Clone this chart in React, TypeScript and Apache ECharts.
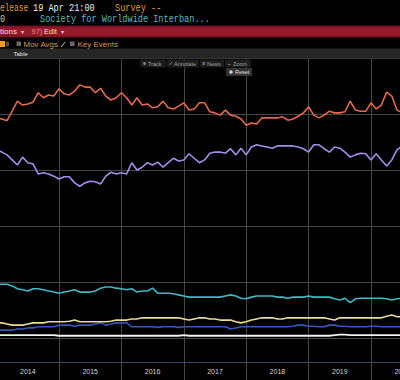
import React, { useEffect, useRef } from "react";
import * as echarts from "echarts";

// ---- categories (monthly, Jan 2014 .. Jul 2020) ----
const years = ["2014", "2015", "2016", "2017", "2018", "2019", "2020"];
const monthCodes = ["01", "02", "03", "04", "05", "06", "07", "08", "09", "10", "11", "12"];
const allMonths: string[] = [];
years.forEach((y) => monthCodes.forEach((m) => allMonths.push(`${y}-${m}`)));
const months = allMonths.slice(0, 79);

// ---- series values (share, %) ----
const seriesOrange = [
  39.3, 39.1, 38.8, 40.5, 42.3, 41.6, 41.8, 42.1, 43.8, 42.9,
  43.4, 43.2, 44.5, 43.6, 43.4, 44.1, 45.2, 44.8, 44.8, 43.8,
  44.6, 43.2, 42.5, 42.9, 43.8, 42.9, 41.6, 42.9, 41.6, 41.8,
  41.1, 41.3, 42.3, 41.1, 40.9, 41.4, 42.0, 40.7, 40.9, 42.0,
  42.0, 40.4, 40.2, 39.8, 40.7, 39.8, 39.6, 39.1, 38.0, 38.4,
  38.2, 39.3, 39.3, 39.3, 39.3, 39.5, 38.9, 39.1, 39.6, 40.2,
  41.3, 39.8, 39.3, 39.8, 40.5, 40.2, 40.2, 40.4, 42.3, 40.7,
  40.5, 40.5, 42.0, 40.9, 41.6, 43.9, 43.2, 40.7, 40.2,
];
const seriesPurple = [
  33.6, 33.2, 32.7, 31.8, 30.9, 32.3, 31.3, 31.1, 29.3, 29.5,
  29.3, 28.9, 28.4, 28.8, 28.8, 27.7, 27.1, 27.7, 28.0, 27.9,
  27.5, 28.9, 29.6, 29.3, 29.5, 29.3, 31.3, 30.0, 30.5, 31.3,
  30.9, 31.4, 30.5, 31.3, 32.1, 31.6, 31.8, 32.9, 32.1, 31.3,
  31.8, 33.0, 33.2, 33.2, 33.0, 33.8, 32.7, 33.9, 32.7, 34.1,
  34.5, 34.3, 34.1, 33.9, 34.3, 34.3, 34.3, 34.3, 34.1, 33.8,
  33.2, 34.5, 34.5, 33.8, 33.2, 34.1, 33.9, 33.2, 32.3, 32.7,
  33.0, 32.9, 31.8, 32.9, 31.8, 30.7, 31.8, 33.6, 34.3,
];
const seriesCyan = [
  9.6, 9.6, 9.6, 9.3, 8.8, 8.6, 8.4, 8.8, 8.8, 8.6,
  8.4, 8.2, 8.0, 8.2, 8.4, 8.6, 8.2, 8.2, 8.2, 8.4,
  8.9, 9.1, 9.1, 8.9, 8.8, 8.6, 8.8, 8.2, 8.4, 8.4,
  8.9, 8.0, 8.0, 8.0, 7.9, 7.7, 7.5, 7.3, 7.3, 7.3,
  7.3, 7.3, 7.3, 7.3, 7.5, 7.7, 7.5, 7.1, 7.0, 7.3,
  7.5, 7.5, 7.5, 7.5, 7.3, 7.3, 7.1, 7.3, 7.3, 7.3,
  7.5, 7.3, 7.3, 7.3, 7.3, 7.0, 6.8, 7.1, 6.3, 7.0,
  7.1, 7.1, 7.1, 7.1, 7.1, 7.0, 6.8, 7.0, 7.1,
];
const seriesYellow = [
  2.7, 2.7, 2.5, 2.3, 2.3, 2.3, 2.5, 2.7, 2.7, 2.7,
  2.9, 2.9, 2.9, 2.9, 3.0, 3.2, 2.9, 2.9, 2.9, 2.9,
  2.9, 2.9, 3.0, 3.2, 3.2, 3.2, 3.4, 3.4, 3.6, 3.6,
  3.6, 3.6, 3.6, 3.6, 3.6, 3.6, 3.4, 3.2, 3.4, 3.6,
  3.6, 3.4, 3.4, 3.2, 3.2, 3.2, 2.9, 2.7, 2.9, 3.2,
  3.4, 3.6, 3.6, 3.6, 3.4, 3.4, 3.6, 3.6, 3.6, 3.6,
  3.6, 3.6, 3.6, 3.6, 3.4, 3.2, 3.6, 3.6, 3.6, 3.6,
  3.6, 3.6, 3.6, 3.6, 3.6, 3.9, 4.1, 3.8, 3.8,
];
const seriesBlue = [
  1.4, 1.4, 1.4, 1.4, 1.6, 1.6, 1.8, 1.8, 2.0, 2.0,
  2.0, 2.0, 2.3, 2.3, 2.3, 2.1, 2.3, 2.3, 2.3, 2.5,
  2.7, 2.3, 2.5, 2.7, 2.7, 2.7, 2.0, 2.0, 2.0, 2.0,
  2.0, 1.9, 2.0, 2.0, 2.0, 1.9, 2.0, 2.0, 2.0, 2.0,
  2.0, 2.0, 2.0, 2.0, 2.0, 1.6, 1.8, 2.0, 2.0, 2.0,
  2.0, 2.0, 2.0, 2.0, 2.0, 2.0, 2.0, 2.1, 2.3, 2.3,
  2.1, 2.1, 2.0, 2.0, 2.3, 2.3, 2.1, 2.1, 2.0, 2.0,
  2.0, 2.0, 2.1, 2.1, 2.0, 2.0, 2.0, 2.0, 2.0,
];
const seriesWhite = [
  0.5, 0.5, 0.5, 0.5, 0.5, 0.5, 0.5, 0.5, 0.5, 0.5,
  0.5, 0.5, 0.4, 0.4, 0.4, 0.4, 0.4, 0.4, 0.4, 0.4,
  0.4, 0.4, 0.4, 0.4, 0.4, 0.4, 0.4, 0.4, 0.4, 0.4,
  0.4, 0.4, 0.4, 0.4, 0.4, 0.4, 0.5, 0.4, 0.4, 0.4,
  0.4, 0.4, 0.4, 0.4, 0.4, 0.4, 0.4, 0.4, 0.4, 0.4,
  0.4, 0.4, 0.4, 0.4, 0.4, 0.4, 0.4, 0.4, 0.4, 0.4,
  0.4, 0.4, 0.4, 0.4, 0.4, 0.5, 0.6, 0.6, 0.5, 0.5,
  0.5, 0.5, 0.5, 0.5, 0.5, 0.5, 0.5, 0.5, 0.5,
];

const MONO = "Liberation Mono";
const SANS = "Liberation Sans";
const SHIFT = 4; // chart div starts 4px left of the page edge

function monoText(text: string, x: number, y: number, fill: string, sx = 0.78) {
  return {
    type: "text",
    x,
    y,
    scaleX: sx,
    z: 100,
    style: { text, x: 0, y: 0, fill, font: `11px "${MONO}"`, verticalAlign: "middle" },
  };
}
function sansText(text: string, x: number, y: number, fill: string, size: number) {
  return {
    type: "text",
    x,
    y,
    z: 100,
    style: { text, x: 0, y: 0, fill, font: `${size}px "${SANS}"`, verticalAlign: "middle" },
  };
}

export default function App() {
  const ref = useRef<HTMLDivElement>(null);
  useEffect(() => {
    document.body.style.overflow = "hidden";
    const chart = echarts.init(ref.current!, null, { renderer: "svg" });
    const line = (name: string, data: number[], color: string, w = 1.6) => ({
      name,
      type: "line",
      data,
      symbol: "none",
      showSymbol: false,
      lineStyle: { color, width: w },
      itemStyle: { color },
    });
    const option: any = {
      animation: false,
      backgroundColor: "#000000",
      grid: { left: 0.6, right: 1.8, top: 58, bottom: 0, containLabel: false, outerBoundsMode: "none" },
      xAxis: {
        type: "category",
        data: months,
        boundaryGap: false,
        offset: -18,
        axisLine: { onZero: false, lineStyle: { color: "#3a4a60", width: 1 } },
        axisTick: { show: false },
        axisLabel: {
          interval: (i: number) => i % 12 === 6,
          formatter: (v: string) => v.slice(0, 4),
          color: "#d8d8d8",
          fontSize: 7,
          fontFamily: SANS,
          margin: 6,
        },
        splitLine: {
          show: true,
          interval: (i: number) => i % 12 === 0,
          lineStyle: { color: "#474747", width: 1 },
        },
      },
      yAxis: {
        type: "value",
        min: -7.5,
        max: 50,
        axisLine: { show: false },
        axisTick: { show: false },
        axisLabel: { show: false },
        splitLine: { show: true, lineStyle: { color: "#474747", width: 1 } },
      },
      series: [
        line("White", seriesWhite, "#f2f2f2", 1.8),
        line("Blue", seriesBlue, "#3656c0"),
        line("Yellow", seriesYellow, "#e8dc98"),
        line("Cyan", seriesCyan, "#3fb9c4"),
        line("Purple", seriesPurple, "#a68de8"),
        line("Orange", seriesOrange, "#e66a4a"),
      ],
      graphic: {
        elements: [
          {
            type: "group",
            x: SHIFT,
            y: 0,
            z: 100,
            children: [
              // header row 1
              monoText("elease", 0, 8.6, "#e69a3c", 0.71),
              monoText("19 Apr 21:00", 33, 8.6, "#ececec"),
              monoText("Survey --", 115, 8.6, "#e69a3c"),
              // header row 2
              monoText("0", 0, 19.6, "#e8c48a"),
              monoText("Society for Worldwide Interban...", 40, 19.6, "#5cb8c0"),
              // red toolbar
              {
                type: "rect",
                z: 99,
                shape: { x: 0, y: 25.5, width: 400, height: 12 },
                style: {
                  fill: new echarts.graphic.LinearGradient(0, 0, 0, 1, [
                    { offset: 0, color: "#6c0f1c" },
                    { offset: 0.25, color: "#951a2b" },
                    { offset: 0.75, color: "#951a2b" },
                    { offset: 1, color: "#6c0f1c" },
                  ]),
                },
              },
              sansText("tions", 0, 31.8, "#f2dada", 8),
              sansText("▾", 20.5, 31.8, "#f2dada", 6),
              sansText("97)", 31.5, 31.8, "#e58a8a", 7.5),
              sansText("Edit", 44, 31.8, "#f2dada", 7.5),
              sansText("▾", 60.5, 31.8, "#f2dada", 6),
              // row 3
              { type: "rect", z: 100, shape: { x: 0, y: 41, width: 5, height: 6 }, style: { fill: "#f0a020" } },
              { type: "rect", z: 100, shape: { x: 6, y: 41.5, width: 3, height: 5 }, style: { fill: "#4a4a4a" } },
              { type: "rect", z: 100, shape: { x: 16.5, y: 41.5, width: 4.5, height: 4.5 }, style: { fill: "#6a6a6a" } },
              sansText("Mov Avgs", 23.5, 44.2, "#d89a58", 8),
              { type: "line", z: 100, shape: { x1: 61, y1: 47, x2: 65, y2: 42 }, style: { stroke: "#c8c8c8", lineWidth: 1 } },
              { type: "rect", z: 100, shape: { x: 70, y: 41.5, width: 4.5, height: 4.5 }, style: { fill: "#6a6a6a" } },
              sansText("Key Events", 77.5, 44.2, "#d89a58", 8),
              // row 4 (tab bar)
              { type: "rect", z: 99, shape: { x: 0, y: 48.5, width: 400, height: 10 }, style: { fill: "#262626" } },
              sansText("Table", 13.5, 53.5, "#e2e2e2", 6),
              // in-chart toolbar
              { type: "rect", z: 99, shape: { x: 140, y: 59.5, width: 26, height: 8, r: 1 }, style: { fill: "#1c1c1c" } },
              { type: "rect", z: 99, shape: { x: 167, y: 59.5, width: 32, height: 8, r: 1 }, style: { fill: "#1c1c1c" } },
              { type: "rect", z: 99, shape: { x: 200, y: 59.5, width: 24, height: 8, r: 1 }, style: { fill: "#1c1c1c" } },
              { type: "rect", z: 99, shape: { x: 225, y: 59.5, width: 26, height: 8, r: 1 }, style: { fill: "#1c1c1c" } },
              { type: "circle", z: 100, shape: { cx: 144.5, cy: 63.5, r: 1.4 }, style: { fill: "#8a8a8a" } },
              sansText("Track", 148, 63.5, "#a0a0a0", 5.5),
              { type: "line", z: 100, shape: { x1: 169.5, y1: 65, x2: 172, y2: 62 }, style: { stroke: "#8a8a8a", lineWidth: 0.8 } },
              sansText("Annotate", 174, 63.5, "#a0a0a0", 5.5),
              { type: "rect", z: 100, shape: { x: 202.5, y: 62, width: 2.6, height: 3 }, style: { fill: "#6a6a6a" } },
              sansText("News", 207, 63.5, "#a0a0a0", 5.5),
              { type: "line", z: 100, shape: { x1: 228, y1: 64.5, x2: 230.5, y2: 64.5 }, style: { stroke: "#8a8a8a", lineWidth: 0.8 } },
              sansText("Zoom", 233, 63.5, "#a0a0a0", 5.5),
              { type: "rect", z: 99, shape: { x: 226, y: 68, width: 26, height: 8, r: 1 }, style: { fill: "#333333" } },
              { type: "circle", z: 100, shape: { cx: 231, cy: 72, r: 1.8 }, style: { fill: "#d0d0d0" } },
              sansText("Reset", 235, 72, "#e0e0e0", 5.5),
            ],
          },
        ],
      },
    };
    chart.setOption(option);
    return () => chart.dispose();
  }, []);
  return (
    <div
      ref={ref}
      style={{ position: "fixed", left: -SHIFT, top: 0, width: 408, height: 380, background: "#000" }}
    />
  );
}
